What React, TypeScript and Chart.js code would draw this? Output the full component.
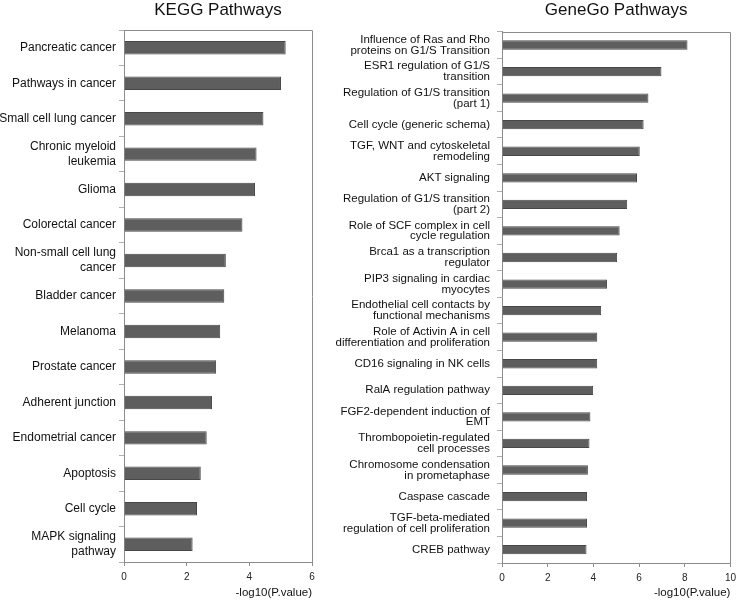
import React, { useEffect, useRef } from 'react';
import { Chart, registerables } from 'chart.js';

Chart.register(...registerables);

// ---------- data ----------
const keggLabels: (string | string[])[] = [
  'Pancreatic cancer',
  'Pathways in cancer',
  'Small cell lung cancer',
  ['Chronic myeloid', 'leukemia'],
  'Glioma',
  'Colorectal cancer',
  ['Non-small cell lung', 'cancer'],
  'Bladder cancer',
  'Melanoma',
  'Prostate cancer',
  'Adherent junction',
  'Endometrial cancer',
  'Apoptosis',
  'Cell cycle',
  ['MAPK signaling', 'pathway'],
];
const keggValues = [5.16, 5.01, 4.45, 4.23, 4.18, 3.78, 3.25, 3.2, 3.07, 2.94, 2.81, 2.64, 2.45, 2.33, 2.19];
const keggTicks = [0, 2, 4, 6];

const genegoLabels: (string | string[])[] = [
  ['Influence of Ras and Rho', 'proteins on G1/S Transition'],
  ['ESR1 regulation of G1/S', 'transition'],
  ['Regulation of G1/S transition', '(part 1)'],
  'Cell cycle (generic schema)',
  ['TGF, WNT and cytoskeletal', 'remodeling'],
  'AKT signaling',
  ['Regulation of G1/S transition', '(part 2)'],
  ['Role of SCF complex in cell', 'cycle regulation'],
  ['Brca1 as a transcription', 'regulator'],
  ['PIP3 signaling in cardiac', 'myocytes'],
  ['Endothelial cell contacts by', 'functional mechanisms'],
  ['Role of Activin A in cell', 'differentiation and proliferation'],
  'CD16 signaling in NK cells',
  'RalA regulation pathway',
  ['FGF2-dependent induction of', 'EMT'],
  ['Thrombopoietin-regulated', 'cell processes'],
  ['Chromosome condensation', 'in prometaphase'],
  'Caspase cascade',
  ['TGF-beta-mediated', 'regulation of cell proliferation'],
  'CREB pathway',
];
const genegoValues = [8.12, 6.98, 6.41, 6.2, 6.03, 5.91, 5.48, 5.15, 5.04, 4.6, 4.34, 4.17, 4.17, 3.99, 3.87, 3.83, 3.76, 3.72, 3.72, 3.7];
const genegoTicks = [0, 2, 4, 6, 8, 10];

const xTitle = '-log10(P.value)';
const FONT = "'Liberation Sans', Arial, sans-serif";
const AXIS_COLOR = '#8c8c8c';

const framePlugin = {
  id: 'frameBox',
  afterDraw(chart: any) {
    const { ctx, chartArea: a } = chart;
    ctx.save();
    ctx.strokeStyle = AXIS_COLOR;
    ctx.lineWidth = 1;
    ctx.beginPath();
    ctx.moveTo(Math.round(a.left) + 0.5, Math.round(a.top) + 0.5);
    ctx.lineTo(Math.round(a.right) + 0.5, Math.round(a.top) + 0.5);
    ctx.lineTo(Math.round(a.right) + 0.5, Math.round(a.bottom) + 0.5);
    ctx.stroke();
    ctx.restore();
  },
};

interface PanelProps {
  labels: (string | string[])[];
  values: number[];
  ticks: number[];
  title: string;
  left: number;
  width: number;
  yWidth: number;
  xHeight: number;
  titleGap: number;
  padRight: number;
  labelSize: number;
  labelLine: number;
  labelPad: number;
  barPct: number;
}

function BarPanel(p: PanelProps) {
  const ref = useRef<HTMLCanvasElement | null>(null);
  useEffect(() => {
    if (!ref.current) return;
    const chart = new Chart(ref.current, {
      type: 'bar',
      data: {
        labels: p.labels as any,
        datasets: [
          {
            data: p.values,
            backgroundColor: '#5e5e5e',
            borderColor: '#474747',
            borderWidth: 1,
            categoryPercentage: 1,
            barPercentage: p.barPct,
          },
        ],
      },
      options: {
        indexAxis: 'y',
        responsive: false,
        animation: false,
        maintainAspectRatio: false,
        layout: { padding: { left: 0, right: p.padRight, top: 0, bottom: 0 } },
        plugins: {
          legend: { display: false },
          tooltip: { enabled: false },
          title: {
            display: true,
            text: p.title,
            fullSize: false,
            color: '#111',
            font: { family: FONT, size: 17, weight: 'normal', lineHeight: 1.2 },
            padding: { top: 0, bottom: p.titleGap },
          },
        },
        scales: {
          x: {
            type: 'linear',
            min: p.ticks[0],
            max: p.ticks[p.ticks.length - 1],
            afterBuildTicks: (s: any) => {
              s.ticks = p.ticks.map((v) => ({ value: v }));
            },
            afterFit: (s: any) => {
              s.height = p.xHeight;
            },
            grid: {
              drawOnChartArea: false,
              drawTicks: true,
              tickLength: 4,
              color: AXIS_COLOR,
            },
            border: { display: true, color: AXIS_COLOR },
            ticks: {
              color: '#222',
              padding: 5,
              maxRotation: 0,
              font: { family: FONT, size: 10 },
            },
            title: {
              display: true,
              text: xTitle,
              align: 'end',
              color: '#111',
              font: { family: FONT, size: 11.5, lineHeight: 1.2 },
              padding: { top: 0, bottom: 1 },
            },
          },
          y: {
            type: 'category',
            offset: true,
            afterFit: (s: any) => {
              s.width = p.yWidth;
            },
            grid: {
              offset: true,
              drawOnChartArea: false,
              drawTicks: true,
              tickLength: 5,
              color: '#b0b0b0',
            },
            border: { display: true, color: AXIS_COLOR },
            ticks: {
              color: '#111',
              padding: p.labelPad,
              autoSkip: false,
              font: { family: FONT, size: p.labelSize, lineHeight: p.labelLine },
            },
          },
        },
      },
      plugins: [framePlugin],
    });
    return () => chart.destroy();
  }, []);
  return (
    <div style={{ position: 'absolute', left: p.left, top: 0, width: p.width, height: 601 }}>
      <canvas ref={ref} width={p.width} height={601} style={{ display: 'block' }} />
    </div>
  );
}

export default function App() {
  return (
    <div style={{ position: 'fixed', left: 0, top: 0, width: 741, height: 601, background: '#fff', overflow: 'hidden' }}>
      <BarPanel
        labels={keggLabels}
        values={keggValues}
        ticks={keggTicks}
        title="KEGG Pathways"
        left={0}
        width={330}
        yWidth={124}
        xHeight={39}
        titleGap={9.6}
        padRight={18}
        labelSize={12}
        labelLine={1.25}
        labelPad={3}
        barPct={0.38}
      />
      <BarPanel
        labels={genegoLabels}
        values={genegoValues}
        ticks={genegoTicks}
        title="GeneGo Pathways"
        left={330}
        width={411}
        yWidth={172}
        xHeight={38}
        titleGap={11.3}
        padRight={5.3}
        labelSize={11.5}
        labelLine={0.93}
        labelPad={7}
        barPct={0.35}
      />
    </div>
  );
}
